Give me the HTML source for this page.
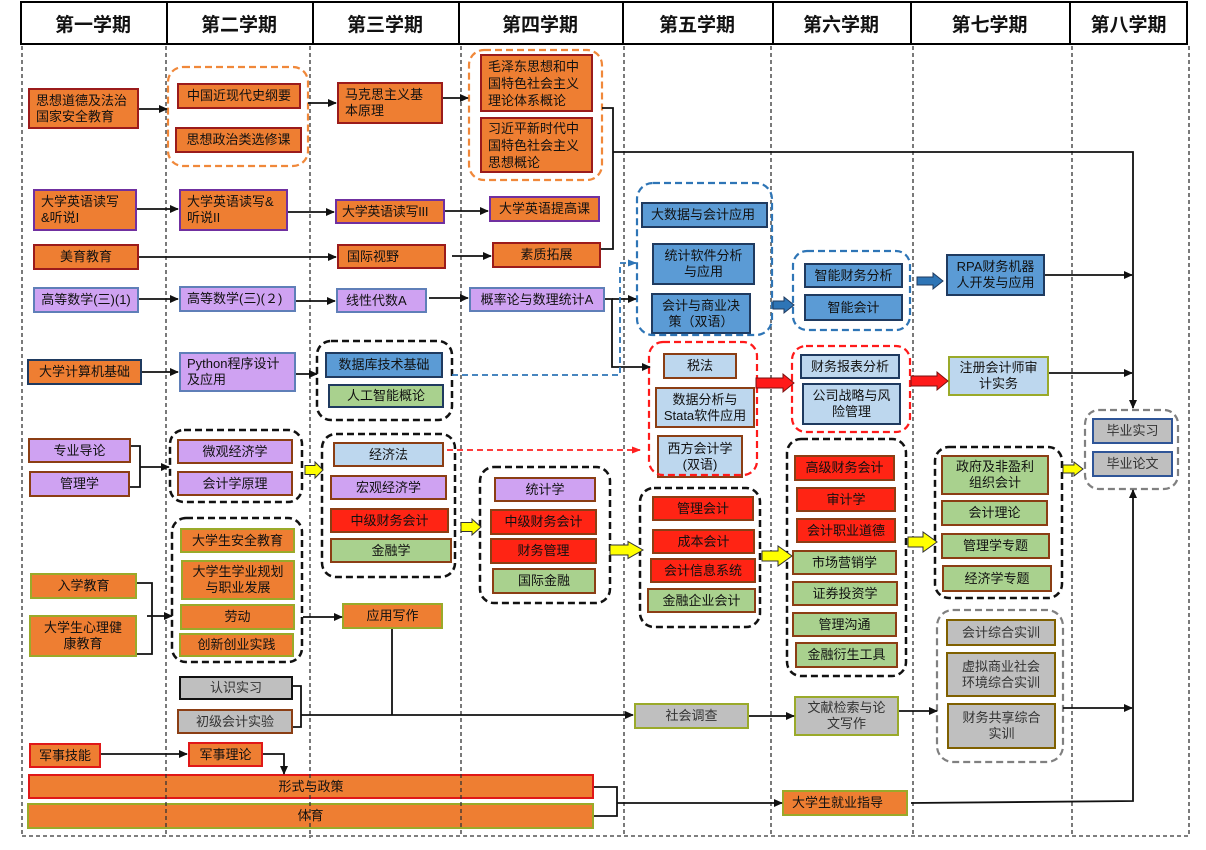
<!DOCTYPE html>
<html><head><meta charset="utf-8">
<style>
html,body{margin:0;padding:0;background:#fff;}
body{width:1206px;height:850px;overflow:hidden;position:relative;font-family:"Liberation Sans","Noto Sans CJK SC",sans-serif;}
.h{position:absolute;top:1px;height:44px;display:flex;align-items:center;justify-content:center;font-size:19px;font-weight:bold;color:#111;font-family:"Liberation Sans","Noto Sans CJK SC",sans-serif;}
.b{position:absolute;box-sizing:border-box;border:2px solid #000;display:flex;align-items:center;justify-content:center;text-align:center;font-size:13px;line-height:16px;color:#111;white-space:nowrap;overflow:visible;}
.l{justify-content:flex-start;text-align:left;padding-left:6px;}
.t3{line-height:17px;}
.O{background:#EE7E32}.P{background:#CFA2F2}.B{background:#5B9BD5}.LB{background:#BDD7EE}.G{background:#A9D18E}.R{background:#FF2414}.GR{background:#BFBFBF;color:#333}
.dr{border-color:#9B1B1B}.pu{border-color:#7030A0}.bg{border-color:#5F7FB8}.nv{border-color:#1F3A5F}.br{border-color:#8B3E14}.ol{border-color:#9AAA2A}.rd{border-color:#E01818}.dg{border-color:#7F6000}.bl{border-color:#2F5597}.bk{border-color:#111;border-width:2.5px}
svg{position:absolute;left:0;top:0;}
</style></head><body>

<!-- header -->
<div style="position:absolute;left:20px;top:1px;width:1168px;height:44px;box-sizing:border-box;border:2px solid #000;"></div>
<div style="position:absolute;left:166px;top:1px;width:1.5px;height:44px;background:#000"></div>
<div style="position:absolute;left:312px;top:1px;width:1.5px;height:44px;background:#000"></div>
<div style="position:absolute;left:458px;top:1px;width:1.5px;height:44px;background:#000"></div>
<div style="position:absolute;left:622px;top:1px;width:1.5px;height:44px;background:#000"></div>
<div style="position:absolute;left:772px;top:1px;width:1.5px;height:44px;background:#000"></div>
<div style="position:absolute;left:910px;top:1px;width:1.5px;height:44px;background:#000"></div>
<div style="position:absolute;left:1069px;top:1px;width:1.5px;height:44px;background:#000"></div>
<div class="h" style="left:20px;width:146px">第一学期</div>
<div class="h" style="left:166px;width:146px">第二学期</div>
<div class="h" style="left:312px;width:146px">第三学期</div>
<div class="h" style="left:458px;width:164px">第四学期</div>
<div class="h" style="left:622px;width:150px">第五学期</div>
<div class="h" style="left:772px;width:138px">第六学期</div>
<div class="h" style="left:910px;width:159px">第七学期</div>
<div class="h" style="left:1069px;width:119px">第八学期</div>

<!-- semester 1 -->
<div class="b O dr l" style="left:28px;top:88px;width:111px;height:41px">思想道德及法治<br>国家安全教育</div>
<div class="b O pu l" style="left:33px;top:189px;width:104px;height:42px">大学英语读写<br>&amp;听说I</div>
<div class="b O dr" style="left:33px;top:244px;width:106px;height:26px">美育教育</div>
<div class="b P bg" style="left:33px;top:287px;width:106px;height:26px">高等数学(三)(1)</div>
<div class="b O nv" style="left:27px;top:359px;width:115px;height:26px">大学计算机基础</div>
<div class="b P br" style="left:28px;top:438px;width:103px;height:25px">专业导论</div>
<div class="b P br" style="left:29px;top:471px;width:101px;height:26px">管理学</div>
<div class="b O ol" style="left:30px;top:573px;width:107px;height:26px">入学教育</div>
<div class="b O ol" style="left:29px;top:615px;width:108px;height:42px">大学生心理健<br>康教育</div>
<div class="b O rd" style="left:29px;top:743px;width:72px;height:25px">军事技能</div>
<div class="b O rd" style="left:28px;top:774px;width:566px;height:25px">形式与政策</div>
<div class="b O ol" style="left:27px;top:803px;width:567px;height:26px">体育</div>

<!-- semester 2 -->
<div class="b O dr" style="left:177px;top:83px;width:124px;height:26px">中国近现代史纲要</div>
<div class="b O dr" style="left:175px;top:127px;width:127px;height:26px">思想政治类选修课</div>
<div class="b O pu l" style="left:179px;top:189px;width:109px;height:42px">大学英语读写&amp;<br>听说II</div>
<div class="b P bg l" style="left:179px;top:286px;width:117px;height:26px">高等数学(三)(２)</div>
<div class="b P bg l" style="left:179px;top:352px;width:117px;height:40px">Python程序设计<br>及应用</div>
<div class="b P br" style="left:177px;top:439px;width:116px;height:25px">微观经济学</div>
<div class="b P br" style="left:177px;top:471px;width:116px;height:25px">会计学原理</div>
<div class="b O ol" style="left:180px;top:528px;width:115px;height:25px">大学生安全教育</div>
<div class="b O ol" style="left:181px;top:560px;width:114px;height:40px">大学生学业规划<br>与职业发展</div>
<div class="b O ol" style="left:180px;top:604px;width:115px;height:26px">劳动</div>
<div class="b O ol" style="left:179px;top:633px;width:115px;height:24px">创新创业实践</div>
<div class="b GR bk" style="left:179px;top:676px;width:114px;height:24px">认识实习</div>
<div class="b GR br" style="left:177px;top:709px;width:116px;height:25px">初级会计实验</div>
<div class="b O rd" style="left:188px;top:742px;width:75px;height:25px">军事理论</div>

<!-- semester 3 -->
<div class="b O dr l" style="left:337px;top:82px;width:106px;height:42px">马克思主义基<br>本原理</div>
<div class="b O pu l" style="left:335px;top:199px;width:110px;height:25px;padding-left:5px;letter-spacing:-0.3px">大学英语读写III</div>
<div class="b O dr l" style="left:337px;top:244px;width:109px;height:25px;padding-left:8px">国际视野</div>
<div class="b P bg l" style="left:336px;top:288px;width:91px;height:25px;padding-left:8px">线性代数A</div>
<div class="b B nv" style="left:325px;top:352px;width:118px;height:26px">数据库技术基础</div>
<div class="b G nv" style="left:328px;top:384px;width:116px;height:24px">人工智能概论</div>
<div class="b LB br" style="left:333px;top:442px;width:111px;height:25px">经济法</div>
<div class="b P br" style="left:330px;top:475px;width:117px;height:25px">宏观经济学</div>
<div class="b R br" style="left:330px;top:508px;width:119px;height:25px">中级财务会计</div>
<div class="b G br" style="left:330px;top:538px;width:122px;height:25px">金融学</div>
<div class="b O ol" style="left:342px;top:603px;width:101px;height:26px">应用写作</div>

<!-- semester 4 -->
<div class="b O dr l t3" style="left:480px;top:54px;width:113px;height:58px">毛泽东思想和中<br>国特色社会主义<br>理论体系概论</div>
<div class="b O dr l t3" style="left:480px;top:117px;width:113px;height:56px">习近平新时代中<br>国特色社会主义<br>思想概论</div>
<div class="b O pu" style="left:489px;top:196px;width:111px;height:26px">大学英语提高课</div>
<div class="b O dr" style="left:492px;top:242px;width:109px;height:26px">素质拓展</div>
<div class="b P bg" style="left:469px;top:287px;width:136px;height:25px">概率论与数理统计A</div>
<div class="b P br" style="left:494px;top:477px;width:102px;height:25px">统计学</div>
<div class="b R br" style="left:490px;top:509px;width:107px;height:26px">中级财务会计</div>
<div class="b R br" style="left:490px;top:538px;width:107px;height:26px">财务管理</div>
<div class="b G br" style="left:492px;top:568px;width:104px;height:26px">国际金融</div>

<!-- semester 5 -->
<div class="b B nv l" style="left:641px;top:202px;width:127px;height:26px;padding-left:8px">大数据与会计应用</div>
<div class="b B nv" style="left:652px;top:243px;width:103px;height:42px">统计软件分析<br>与应用</div>
<div class="b B nv" style="left:651px;top:293px;width:100px;height:41px">会计与商业决<br>策（双语）</div>
<div class="b LB br" style="left:663px;top:353px;width:74px;height:26px">税法</div>
<div class="b LB br" style="left:655px;top:387px;width:100px;height:41px">数据分析与<br>Stata软件应用</div>
<div class="b LB br" style="left:657px;top:435px;width:86px;height:43px">西方会计学<br>(双语)</div>
<div class="b R br" style="left:652px;top:496px;width:102px;height:25px">管理会计</div>
<div class="b R br" style="left:652px;top:529px;width:103px;height:25px">成本会计</div>
<div class="b R br" style="left:650px;top:558px;width:106px;height:25px">会计信息系统</div>
<div class="b G br" style="left:647px;top:588px;width:109px;height:25px">金融企业会计</div>
<div class="b GR ol" style="left:634px;top:703px;width:115px;height:26px">社会调查</div>

<!-- semester 6 -->
<div class="b B nv" style="left:804px;top:263px;width:99px;height:25px">智能财务分析</div>
<div class="b B nv" style="left:804px;top:294px;width:99px;height:27px">智能会计</div>
<div class="b LB nv" style="left:800px;top:354px;width:100px;height:25px">财务报表分析</div>
<div class="b LB nv" style="left:802px;top:383px;width:99px;height:42px">公司战略与风<br>险管理</div>
<div class="b R br" style="left:794px;top:455px;width:101px;height:26px">高级财务会计</div>
<div class="b R br" style="left:796px;top:487px;width:100px;height:25px">审计学</div>
<div class="b R br" style="left:796px;top:518px;width:100px;height:25px">会计职业道德</div>
<div class="b G br" style="left:792px;top:550px;width:105px;height:25px">市场营销学</div>
<div class="b G br" style="left:792px;top:581px;width:106px;height:25px">证券投资学</div>
<div class="b G br" style="left:792px;top:612px;width:105px;height:25px">管理沟通</div>
<div class="b G br" style="left:795px;top:642px;width:103px;height:26px">金融衍生工具</div>
<div class="b GR ol" style="left:794px;top:696px;width:105px;height:40px">文献检索与论<br>文写作</div>
<div class="b O ol l" style="left:782px;top:790px;width:126px;height:26px;padding-left:8px">大学生就业指导</div>

<!-- semester 7 -->
<div class="b B nv" style="left:946px;top:254px;width:99px;height:42px">RPA财务机器<br>人开发与应用</div>
<div class="b LB ol" style="left:948px;top:356px;width:101px;height:40px">注册会计师审<br>计实务</div>
<div class="b G br" style="left:941px;top:455px;width:108px;height:40px">政府及非盈利<br>组织会计</div>
<div class="b G br" style="left:941px;top:500px;width:107px;height:26px">会计理论</div>
<div class="b G br" style="left:941px;top:533px;width:109px;height:26px">管理学专题</div>
<div class="b G br" style="left:942px;top:565px;width:110px;height:27px">经济学专题</div>
<div class="b GR dg" style="left:946px;top:619px;width:110px;height:27px">会计综合实训</div>
<div class="b GR dg" style="left:946px;top:652px;width:110px;height:45px">虚拟商业社会<br>环境综合实训</div>
<div class="b GR dg" style="left:947px;top:703px;width:109px;height:46px">财务共享综合<br>实训</div>

<!-- semester 8 -->
<div class="b GR bl" style="left:1092px;top:418px;width:81px;height:26px">毕业实习</div>
<div class="b GR bl" style="left:1092px;top:451px;width:81px;height:26px">毕业论文</div>

<svg width="1206" height="850" viewBox="0 0 1206 850">
<defs>
<marker id="a" viewBox="0 0 10 10" refX="9" refY="5" markerWidth="9" markerHeight="9" markerUnits="userSpaceOnUse" orient="auto"><path d="M0,0.5 L10,5 L0,9.5 z" fill="#111"/></marker>
<marker id="ab" viewBox="0 0 10 10" refX="9" refY="5" markerWidth="9" markerHeight="9" markerUnits="userSpaceOnUse" orient="auto"><path d="M0,1 L10,5 L0,9 z" fill="#2E75B6"/></marker>
<marker id="ar" viewBox="0 0 10 10" refX="9" refY="5" markerWidth="9" markerHeight="9" markerUnits="userSpaceOnUse" orient="auto"><path d="M0,1 L10,5 L0,9 z" fill="#FF2020"/></marker>
</defs>

<!-- column dashed lines -->
<g stroke="#333" stroke-width="1.3" stroke-dasharray="4 3" fill="none">
<line x1="22" y1="46" x2="22" y2="836"/>
<line x1="166" y1="46" x2="166" y2="836"/>
<line x1="310" y1="46" x2="310" y2="838"/>
<line x1="461" y1="46" x2="461" y2="836"/>
<line x1="624" y1="46" x2="624" y2="836"/>
<line x1="771" y1="46" x2="771" y2="836"/>
<line x1="913" y1="46" x2="913" y2="836"/>
<line x1="1072" y1="46" x2="1072" y2="836"/>
<line x1="1189" y1="46" x2="1189" y2="836"/>
<line x1="22" y1="836" x2="1189" y2="836"/>
</g>

<!-- groups -->
<g fill="none" stroke-width="2.2">
<rect x="168" y="67" width="140" height="99" rx="15" stroke="#F0883A" stroke-dasharray="7 4"/>
<rect x="469" y="50" width="133" height="130" rx="15" stroke="#F0883A" stroke-dasharray="7 4"/>
<g stroke="#111" stroke-width="2.5" stroke-dasharray="7 4">
<rect x="317" y="341" width="135" height="79" rx="14"/>
<rect x="170" y="430" width="132" height="72" rx="14"/>
<rect x="172" y="518" width="130" height="144" rx="14"/>
<rect x="322" y="434" width="133" height="143" rx="14"/>
<rect x="480" y="467" width="130" height="136" rx="14"/>
<rect x="640" y="488" width="120" height="139" rx="14"/>
<rect x="787" y="439" width="119" height="237" rx="14"/>
<rect x="935" y="447" width="127" height="151" rx="14"/>
</g>
<rect x="637" y="183" width="135" height="152" rx="16" stroke="#2E75B6" stroke-dasharray="7 4"/>
<rect x="793" y="251" width="117" height="79" rx="14" stroke="#2E75B6" stroke-dasharray="7 4"/>
<rect x="649" y="342" width="108" height="133" rx="14" stroke="#FF1A1A" stroke-dasharray="7 4"/>
<rect x="792" y="346" width="118" height="86" rx="14" stroke="#FF1A1A" stroke-dasharray="7 4"/>
<rect x="937" y="610" width="126" height="152" rx="16" stroke="#808080" stroke-dasharray="7 4"/>
<rect x="1085" y="410" width="93" height="79" rx="14" stroke="#808080" stroke-dasharray="7 4"/>
</g>

<!-- connectors -->
<g stroke="#111" stroke-width="1.8" fill="none">
<line x1="139" y1="109" x2="167" y2="109" marker-end="url(#a)"/>
<line x1="308" y1="103" x2="336" y2="103" marker-end="url(#a)"/>
<line x1="443" y1="98" x2="468" y2="98" marker-end="url(#a)"/>
<line x1="137" y1="209" x2="178" y2="209" marker-end="url(#a)"/>
<line x1="288" y1="212" x2="334" y2="212" marker-end="url(#a)"/>
<line x1="445" y1="211" x2="488" y2="211" marker-end="url(#a)"/>
<line x1="139" y1="257" x2="336" y2="257" marker-end="url(#a)"/>
<line x1="452" y1="256" x2="491" y2="256" marker-end="url(#a)"/>
<polyline points="602,108 613,108 613,249 601,249"/>
<polyline points="613,152 1133,152 1133,408" marker-end="url(#a)"/>
<line x1="139" y1="299" x2="178" y2="299" marker-end="url(#a)"/>
<line x1="296" y1="301" x2="335" y2="301" marker-end="url(#a)"/>
<line x1="429" y1="298" x2="468" y2="298" marker-end="url(#a)"/>
<polyline points="605,299 612,299 612,367 650,367" marker-end="url(#a)"/>
<line x1="612" y1="299" x2="636" y2="299" marker-end="url(#a)"/>
<line x1="142" y1="372" x2="178" y2="372" marker-end="url(#a)"/>
<line x1="296" y1="374" x2="317" y2="374" marker-end="url(#a)"/>
<polyline points="131,446 140,446 140,487 130,487"/>
<line x1="140" y1="467" x2="169" y2="467" marker-end="url(#a)"/>
<polyline points="137,583 152,583 152,654 137,654"/>
<line x1="147" y1="616" x2="172" y2="616" marker-end="url(#a)"/>
<line x1="303" y1="617" x2="342" y2="617" marker-end="url(#a)"/>
<line x1="392" y1="629" x2="392" y2="715"/>
<polyline points="293,686 301,686 301,727 293,727"/>
<line x1="301" y1="715" x2="633" y2="715" marker-end="url(#a)"/>
<line x1="749" y1="716" x2="794" y2="716" marker-end="url(#a)"/>
<line x1="899" y1="711" x2="937" y2="711" marker-end="url(#a)"/>
<line x1="1063" y1="708" x2="1132" y2="708" marker-end="url(#a)"/>
<line x1="1045" y1="275" x2="1132" y2="275" marker-end="url(#a)"/>
<line x1="1049" y1="373" x2="1132" y2="373" marker-end="url(#a)"/>
<line x1="101" y1="754" x2="187" y2="754" marker-end="url(#a)"/>
<polyline points="263,754 284,754 284,774" marker-end="url(#a)"/>
<polyline points="594,787 617,787 617,816 594,816"/>
<line x1="617" y1="803" x2="782" y2="803" marker-end="url(#a)"/>
<polyline points="911,803 1133,801 1133,490" marker-end="url(#a)"/>
</g>

<!-- dashed colored connectors -->
<polyline points="452,375 620,375 620,263 636,263" fill="none" stroke="#2E75B6" stroke-width="1.8" stroke-dasharray="6 4" marker-end="url(#ab)"/>
<line x1="447" y1="450" x2="640" y2="450" stroke="#FF2020" stroke-width="1.8" stroke-dasharray="6 4" marker-end="url(#ar)"/>

<!-- block arrows -->
<g stroke="#333" stroke-width="1" fill="#FFFF00">
<polygon points="305,465.5 315,465.5 315,462 323,470 315,478 315,474.5 305,474.5"/>
<polygon points="461,522.5 472,522.5 472,519 481,527 472,535 472,531.5 461,531.5"/>
<polygon points="610,545 628,545 628,541.5 643,550 628,558.5 628,555 610,555"/>
<polygon points="762,551 778,551 778,546 792,556 778,566 778,561 762,561"/>
<polygon points="908,537 923,537 923,532 937,542 923,552 923,547 908,547"/>
<polygon points="1063,465 1074,465 1074,462 1083,469 1074,476 1074,473 1063,473"/>
</g>
<g stroke="#1F3A5F" stroke-width="1" fill="#2E75B6">
<polygon points="773,301 784,301 784,297 794,305 784,313 784,309 773,309"/>
<polygon points="917,277 933,277 933,273 943,281 933,289 933,285 917,285"/>
</g>
<g stroke="#7A1010" stroke-width="1" fill="#FF1A1A">
<polygon points="756,378 783,378 783,374 794,383 783,392 783,388 756,388"/>
<polygon points="911,376 937,376 937,372 948,381 937,390 937,386 911,386"/>
</g>
</svg>
</body></html>
